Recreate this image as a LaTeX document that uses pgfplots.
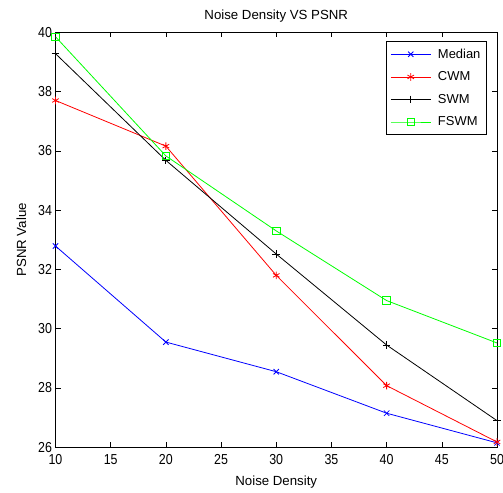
\documentclass[border=0pt]{standalone}
\usepackage{fontspec}
\setmainfont{Liberation Sans}
\newfontfamily\tickfont[FakeStretch=0.86]{Liberation Sans}
\usepackage{pgfplots}
\pgfplotsset{compat=1.18}

\begin{document}
\begin{tikzpicture}
\begin{axis}[
    scale only axis,
    width=441.5bp, height=415bp,
    xmin=10, xmax=50, ymin=26, ymax=40,
    xtick={10,15,...,50}, ytick={26,28,...,40},
    tick align=inside,
    major tick length=5bp,
    tick style={black, line width=0.6bp},
    axis line style={line width=0.8bp},
    /pgf/number format/assume math mode=true,
    tick label style={font=\tickfont\fontsize{14.5}{16}\selectfont},
    xticklabel style={yshift=-4bp},
    yticklabel style={xshift=0bp},
    label style={font=\fontsize{13.3}{15}\selectfont},
    title style={font=\fontsize{13.3}{15}\selectfont, yshift=0.5bp},
    title={Noise Density VS PSNR},
    xlabel={Noise Density},
    ylabel={PSNR Value},
    xlabel style={yshift=-4bp},
    ylabel style={yshift=5bp},
    legend style={at={(0.977,0.978)}, anchor=north east,
        font=\fontsize{13}{15}\selectfont, draw=black, line width=0.8bp,
        row sep=8bp, column sep=5bp, inner xsep=4bp, inner ysep=5bp},
    legend cell align=left,
    legend image code/.code={\draw[mark repeat=2,mark phase=2] plot coordinates {(0cm,0cm) (0.7cm,0cm) (1.4cm,0cm)};},
    every axis plot/.append style={line width=0.8bp, mark size=3.8bp},
]
\addplot[blue, mark=x] coordinates {(10,32.79) (20,29.55) (30,28.55) (40,27.15) (50,26.15)};
\addplot[red, mark=asterisk] coordinates {(10,37.7) (20,36.16) (30,31.8) (40,28.08) (50,26.18)};
\addplot[black, mark=+] coordinates {(10,39.28) (20,35.68) (30,32.52) (40,29.45) (50,26.9)};
\addplot[green, mark=square] coordinates {(10,39.85) (20,35.83) (30,33.3) (40,30.95) (50,29.52)};
\legend{Median, CWM, SWM, FSWM}
\coordinate (bl) at (rel axis cs:0,0);
\coordinate (tr) at (rel axis cs:1,1);
\end{axis}
\pgfresetboundingbox
\path[use as bounding box] ([xshift=-55.5bp,yshift=-45.7bp]bl) rectangle ([xshift=6bp,yshift=32.3bp]tr);
\end{tikzpicture}
\end{document}
